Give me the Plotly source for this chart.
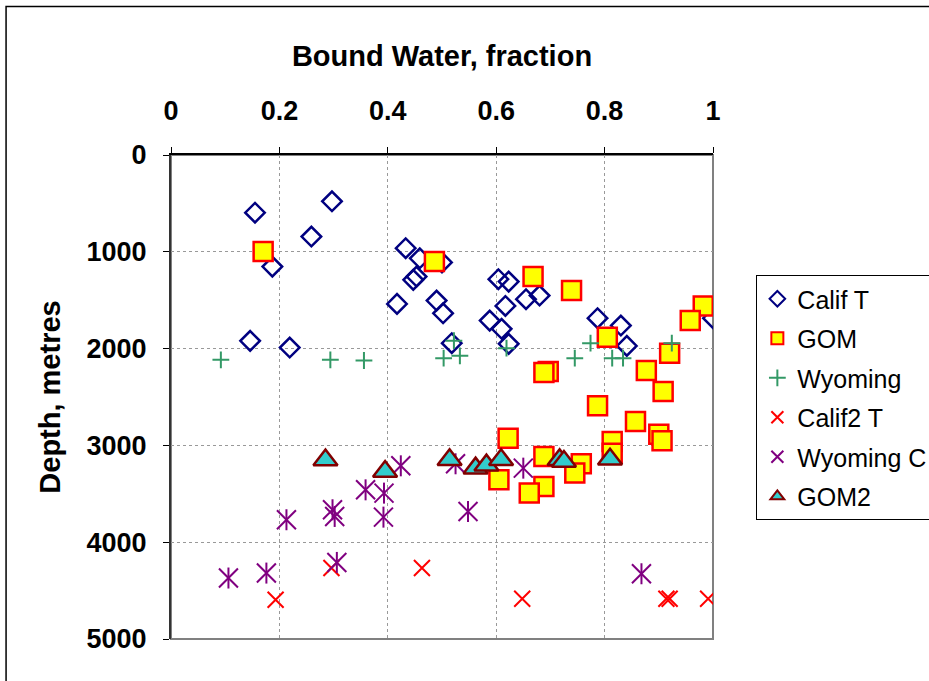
import plotly.graph_objects as go

# bound water fraction (x) vs depth in metres (y)
calif_t_x = [0.155, 0.297, 0.259, 0.187, 0.146, 0.219, 0.433, 0.459, 0.453, 0.447, 0.417, 0.490, 0.502, 0.518,
             0.500, 0.604, 0.623, 0.655, 0.680, 0.617, 0.588, 0.610, 0.623, 0.787, 0.830, 0.841, 1.000]
calif_t_y = [596, 478, 843, 1153, 1920, 1989, 963, 1067, 1256, 1290, 1538, 1504, 1635, 1944,
             1110, 1283, 1308, 1490, 1452, 1559, 1711, 1796, 1951, 1686, 1762, 1972, 1686]

gom_x = [0.170, 0.486, 0.668, 0.739, 0.982, 0.958, 0.805, 0.920, 0.696, 0.688, 0.877, 0.908, 0.787,
         0.857, 0.900, 0.906, 0.814, 0.814, 0.622, 0.688, 0.757, 0.745, 0.605, 0.688, 0.661]
gom_y = [998, 1101, 1256, 1401, 1559, 1711, 1882, 2047, 2237, 2248, 2227, 2443, 2591,
         2753, 2884, 2953, 2960, 3080, 2925, 3115, 3190, 3286, 3355, 3424, 3493]

wyoming_x = [0.092, 0.294, 0.356, 0.503, 0.522, 0.533, 0.619, 0.745, 0.774, 0.814, 0.834, 0.924]
wyoming_y = [2116, 2116, 2123, 2099, 1918, 2075, 1996, 2099, 1944, 2099, 2099, 1944]

calif2_t_x = [0.193, 0.296, 0.463, 0.648, 0.914, 0.920, 0.991]
calif2_t_y = [4594, 4267, 4267, 4584, 4584, 4584, 4584]

wyoming_c_x = [0.106, 0.176, 0.213, 0.298, 0.302, 0.306, 0.359, 0.393, 0.392, 0.424, 0.525, 0.548, 0.650, 0.868]
wyoming_c_y = [4370, 4319, 3768, 3665, 3734, 4209, 3459, 3493, 3741, 3211, 3190, 3683, 3235, 4326]

gom2_x = [0.285, 0.395, 0.514, 0.562, 0.582, 0.609, 0.717, 0.725, 0.810]
gom2_y = [3152, 3269, 3149, 3235, 3204, 3149, 3149, 3166, 3144]

x_ticks = [0, 0.2, 0.4, 0.6, 0.8, 1]
x_labels = ["0", "0.2", "0.4", "0.6", "0.8", "1"]
y_ticks = [0, 1000, 2000, 3000, 4000, 5000]

fig = go.Figure()

fig.add_trace(go.Scatter(
    x=calif_t_x, y=calif_t_y, mode="markers", name="Calif T", legendgroup="a",
    marker=dict(symbol="diamond-open", size=15, color="#000080", line=dict(width=2.5, color="#000080"))
))
fig.add_trace(go.Scatter(
    x=gom_x, y=gom_y, mode="markers", name="GOM", legendgroup="b",
    marker=dict(symbol="square", size=19, color="#FFFF00", line=dict(width=2.5, color="#FF0000"))
))
fig.add_trace(go.Scatter(
    x=wyoming_x, y=wyoming_y, mode="markers", name="Wyoming", legendgroup="c",
    marker=dict(symbol="cross-thin", size=12, color="#339966", line=dict(width=2, color="#339966"))
))
fig.add_trace(go.Scatter(
    x=calif2_t_x, y=calif2_t_y, mode="markers", name="Calif2 T", legendgroup="d",
    marker=dict(symbol="x-thin", size=16, color="#FF0000", line=dict(width=2, color="#FF0000"))
))
# excel "star" marker = an X plus a vertical stroke
fig.add_trace(go.Scatter(
    x=wyoming_c_x, y=wyoming_c_y, mode="markers", name="Wyoming C", legendgroup="e",
    marker=dict(symbol="x-thin", size=19, color="#800080", line=dict(width=2, color="#800080"))
))
fig.add_trace(go.Scatter(
    x=wyoming_c_x, y=wyoming_c_y, mode="markers", name="Wyoming C", legendgroup="e", showlegend=False,
    marker=dict(symbol="line-ns", size=15, color="#800080", line=dict(width=2, color="#800080"))
))
fig.add_trace(go.Scatter(
    x=gom2_x, y=gom2_y, mode="markers", name="GOM2", legendgroup="f",
    marker=dict(symbol="triangle-up", size=21, color="#33CCCC", line=dict(width=2.5, color="#800000"))
))

tick_font = dict(family="Liberation Sans, Arial", size=27, color="black", weight="bold")
title_font = dict(family="Liberation Sans, Arial", size=29, color="black", weight="bold")

fig.update_layout(
    width=929,
    height=681,
    margin=dict(l=171, r=216, t=155, b=42, autoexpand=False),
    paper_bgcolor="white",
    plot_bgcolor="white",
    font=dict(family="Liberation Sans, Arial", color="black"),
    showlegend=True,
    legend=dict(
        x=1.08, y=0.752, xanchor="left", yanchor="top",
        bordercolor="black", borderwidth=1, bgcolor="white",
        font=dict(size=25, family="Liberation Sans, Arial"),
        itemsizing="constant", itemwidth=30,
        traceorder="grouped", tracegroupgap=4,
    ),
    xaxis=dict(
        side="top", range=[0, 1], tickvals=x_ticks, ticktext=x_labels,
        tickfont=tick_font, ticks="outside", ticklen=6, tickcolor="black",
        ticklabelstandoff=16,
        showline=True, linecolor="black", linewidth=2,
        showgrid=True, gridcolor="#999999", griddash="dot", gridwidth=1,
        zeroline=False, automargin=False,
        title=dict(text="Bound Water, fraction", font=title_font, standoff=21),
    ),
    yaxis=dict(
        range=[5000, 0], tickvals=y_ticks,
        tickfont=tick_font, ticks="outside", ticklen=6, tickcolor="black",
        ticklabelstandoff=11,
        showline=True, linecolor="#333333", linewidth=2,
        showgrid=True, gridcolor="#999999", griddash="dot", gridwidth=1,
        zeroline=False, automargin=False,
        title=dict(text="Depth, metres", font=title_font, standoff=17),
    ),
)

# plot area border (grey) and outer chart border
fig.add_shape(type="rect", xref="paper", yref="paper", x0=0, y0=0, x1=1, y1=1,
              line=dict(color="#808080", width=2), layer="below")
fig.add_shape(type="rect", xref="paper", yref="paper", x0=-0.3043, y0=-0.3, x1=1.6, y1=1.3068,
              line=dict(color="black", width=1.5))

# drop the page's default 8px body margin so the chart sits at the window corner
fig.write_html("out.html", config={"displayModeBar": False},
               post_script="document.body.style.margin='0';")
